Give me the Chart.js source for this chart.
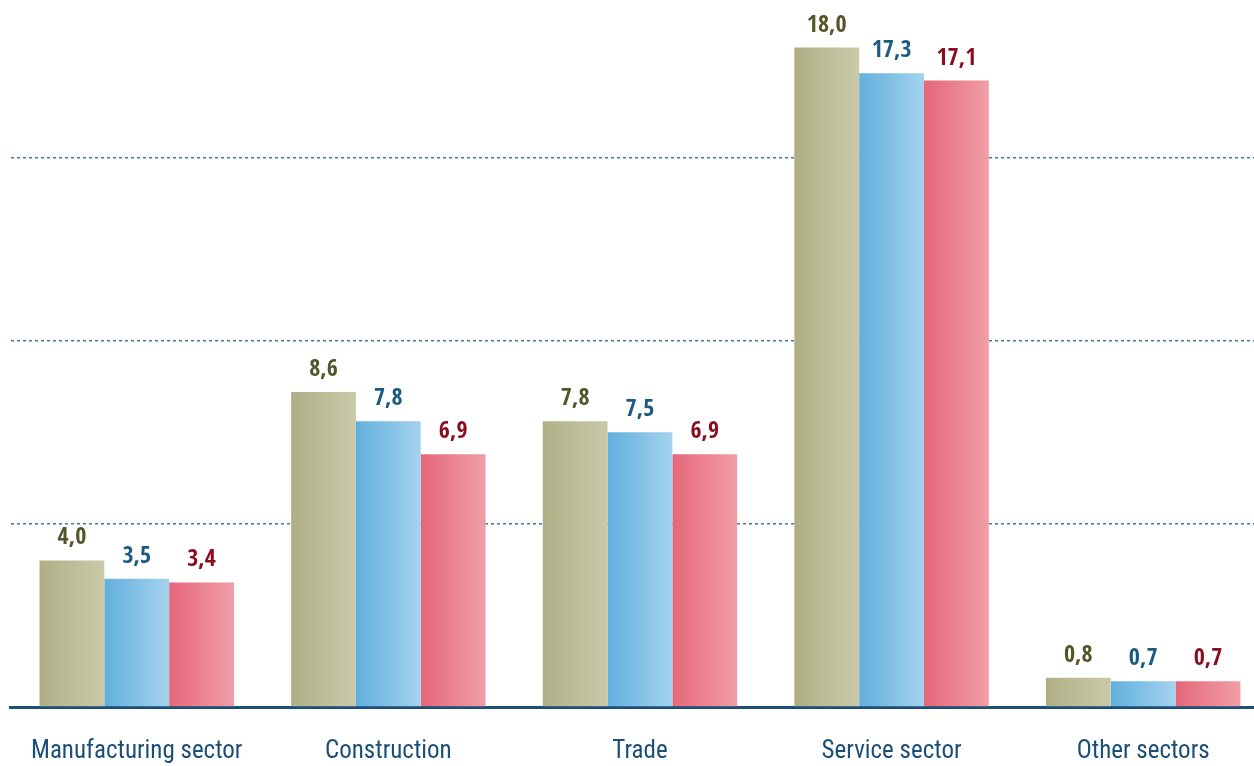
<!DOCTYPE html>
<html>
<head>
<meta charset="utf-8">
<script src="https://cdn.jsdelivr.net/npm/chart.js@4/dist/chart.umd.min.js"></script>
<style>
  html, body { margin: 0; padding: 0; background: #fff; overflow: hidden; }
  #wrap { position: absolute; left: 0; top: 0; width: 1272px; height: 766px; }
</style>
</head>
<body>
<div id="wrap"><canvas id="sectorChart" width="1272" height="766"></canvas></div>
<script>
const categories = ['Manufacturing sector', 'Construction', 'Trade', 'Service sector', 'Other sectors'];
const seriesA = [4.0, 8.6, 7.8, 18.0, 0.8];
const seriesB = [3.5, 7.8, 7.5, 17.3, 0.7];
const seriesC = [3.4, 6.9, 6.9, 17.1, 0.7];
const gridValues = [5, 10, 15];

const catPct = 0.773;

// left / right colours of each bar's horizontal gradient, plus label colour
const palette = [
  { from: '#afaf86', to: '#cacaaa', label: '#55552a' },
  { from: '#62afdd', to: '#a4d3ee', label: '#1b5a82' },
  { from: '#e5677a', to: '#f19ea6', label: '#8a0c1e' }
];

function barGradient(context) {
  const chart = context.chart;
  const pal = palette[context.datasetIndex];
  const xs = chart.scales.x;
  if (!xs || !chart.chartArea) return pal.from;
  const catWidth = xs.width / categories.length;
  const barW = catWidth * catPct / 3;
  const center = xs.getPixelForValue(context.dataIndex) + (context.datasetIndex - 1) * barW;
  const g = chart.ctx.createLinearGradient(center - barW / 2, 0, center + barW / 2, 0);
  g.addColorStop(0, pal.from);
  g.addColorStop(1, pal.to);
  return g;
}

const valueLabels = {
  id: 'valueLabels',
  afterDatasetsDraw(chart) {
    const ctx = chart.ctx;
    ctx.save();
    ctx.font = 'bold 24px "Open Sans Condensed", "Roboto Condensed", sans-serif';
    ctx.textAlign = 'center';
    ctx.textBaseline = 'alphabetic';
    chart.data.datasets.forEach((ds, di) => {
      ctx.fillStyle = palette[di].label;
      chart.getDatasetMeta(di).data.forEach((bar, i) => {
        ctx.fillText(ds.data[i].toFixed(1).replace('.', ','), bar.x, bar.y - 16);
      });
    });
    ctx.restore();
  }
};

const ctx = document.getElementById('sectorChart').getContext('2d');
new Chart(ctx, {
  type: 'bar',
  data: {
    labels: categories,
    datasets: [
      { data: seriesA, backgroundColor: barGradient },
      { data: seriesB, backgroundColor: barGradient },
      { data: seriesC, backgroundColor: barGradient }
    ]
  },
  options: {
    responsive: false,
    animation: false,
    layout: { padding: { left: 10, right: 3, top: 0, bottom: 1 } },
    datasets: { bar: { categoryPercentage: catPct, barPercentage: 1.0, borderWidth: 0 } },
    plugins: { legend: { display: false }, tooltip: { enabled: false } },
    scales: {
      x: {
        grid: { display: false, drawTicks: false },
        border: { display: true, color: '#1b4f78', width: 3 },
        afterFit: (scale) => { scale.height = 58; },
        ticks: {
          color: '#1b4f78',
          padding: 30,
          maxRotation: 0,
          minRotation: 0,
          autoSkip: false,
          font: { family: '"Roboto Condensed", sans-serif', size: 25 }
        }
      },
      y: {
        min: 0,
        max: 19.3,
        ticks: { display: false, stepSize: 5 },
        border: { display: false, dash: [3, 3] },
        grid: {
          drawTicks: false,
          lineWidth: 1.5,
          color: (c) => gridValues.includes(c.tick && c.tick.value) ? '#3f7ca3' : 'rgba(0,0,0,0)'
        }
      }
    }
  },
  plugins: [valueLabels]
});
</script>
</body>
</html>
